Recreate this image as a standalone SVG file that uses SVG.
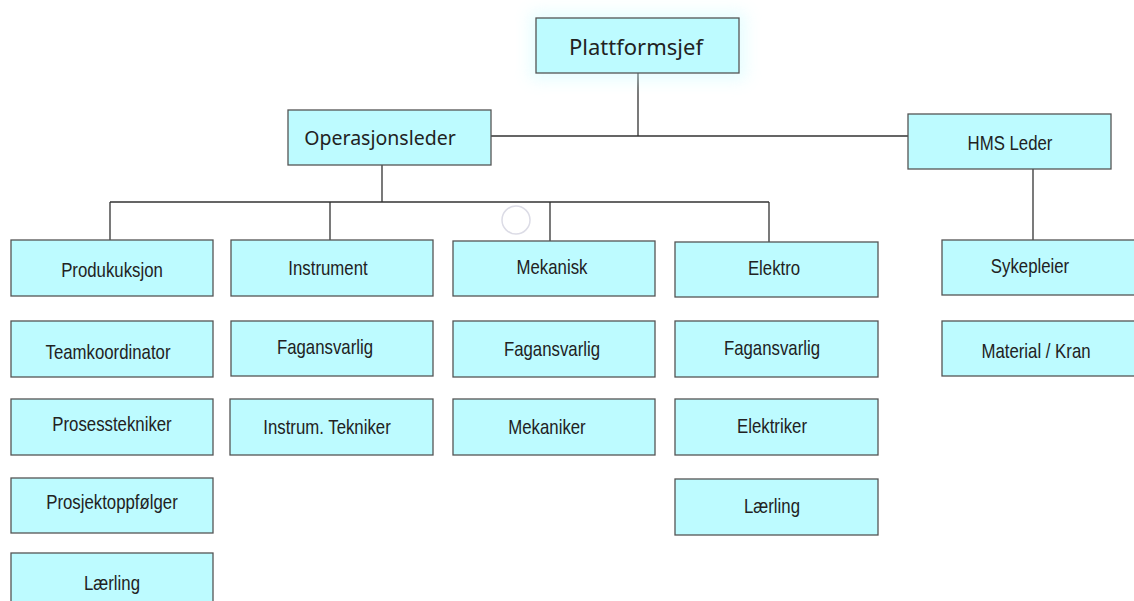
<svg xmlns="http://www.w3.org/2000/svg" width="1134" height="601" viewBox="0 0 1134 601">
  <defs>
    <filter id="glow" x="-20%" y="-40%" width="140%" height="180%">
      <feGaussianBlur stdDeviation="8"/>
    </filter>
  </defs>
  <style>
    .box { fill: #bdfbff; stroke: #555; stroke-width: 1.3; }
    .lbl { font-family: "Liberation Sans", Arial, sans-serif; font-size: 20px; fill: #222; text-anchor: middle; }
    .top { font-family: "Noto Sans", "Open Sans", sans-serif; fill: #222; text-anchor: middle; }
    .wire { fill: none; stroke: #333; stroke-width: 1.3; }
  </style>
  <rect width="1134" height="601" fill="#ffffff"/>

  <!-- connectors -->
  <g id="connectors" class="wire">
    <path d="M638 73 V136 M491 136 H908"/>
    <path d="M382 165 V202 M110 202 H769 M110 202 V240 M330 202 V240 M550 202 V241 M769 202 V242"/>
    <path d="M1033 169 V240"/>
  </g>
  <circle cx="516" cy="220" r="14" fill="none" stroke="#dcdce6" stroke-width="1.5"/>

  <!-- top level -->
  <g id="plattformsjef">
    <rect x="530" y="12" width="216" height="68" fill="#c8fbff" opacity="0.45" filter="url(#glow)"/>
    <rect class="box" x="536" y="18" width="203" height="55"/>
    <text class="top" x="636" y="55" font-size="22">Plattformsjef</text>
  </g>
  <g id="operasjonsleder">
    <rect class="box" x="288" y="110" width="203" height="55"/>
    <text class="top" x="380" y="145" font-size="19.5">Operasjonsleder</text>
  </g>
  <g id="hms-leder">
    <rect class="box" x="908" y="114" width="203" height="55"/>
    <text class="lbl" transform="translate(1010 150) scale(0.84 1)">HMS Leder</text>
  </g>

  <!-- Produksjon column -->
  <g id="produkuksjon">
    <rect class="box" x="11" y="240" width="202" height="56"/>
    <text class="lbl" transform="translate(112 277) scale(0.84 1)">Produkuksjon</text>
  </g>
  <g id="teamkoordinator">
    <rect class="box" x="11" y="321" width="202" height="56"/>
    <text class="lbl" transform="translate(108 359) scale(0.84 1)">Teamkoordinator</text>
  </g>
  <g id="prosesstekniker">
    <rect class="box" x="11" y="399" width="202" height="56"/>
    <text class="lbl" transform="translate(112 431) scale(0.84 1)">Prosesstekniker</text>
  </g>
  <g id="prosjektoppfolger">
    <rect class="box" x="11" y="478" width="202" height="55"/>
    <text class="lbl" transform="translate(112 509) scale(0.84 1)">Prosjektoppfølger</text>
  </g>
  <g id="laerling-produksjon">
    <rect class="box" x="11" y="553" width="202" height="56"/>
    <text class="lbl" transform="translate(112 590) scale(0.84 1)">Lærling</text>
  </g>

  <!-- Instrument column -->
  <g id="instrument">
    <rect class="box" x="231" y="240" width="202" height="56"/>
    <text class="lbl" transform="translate(328 275) scale(0.84 1)">Instrument</text>
  </g>
  <g id="fagansvarlig-instrument">
    <rect class="box" x="231" y="321" width="202" height="55"/>
    <text class="lbl" transform="translate(325 354) scale(0.84 1)">Fagansvarlig</text>
  </g>
  <g id="instrumenttekniker">
    <rect class="box" x="230" y="399" width="203" height="56"/>
    <text class="lbl" transform="translate(327 434) scale(0.84 1)">Instrum. Tekniker</text>
  </g>

  <!-- Mekanisk column -->
  <g id="mekanisk">
    <rect class="box" x="453" y="241" width="202" height="55"/>
    <text class="lbl" transform="translate(552 274) scale(0.84 1)">Mekanisk</text>
  </g>
  <g id="fagansvarlig-mekanisk">
    <rect class="box" x="453" y="321" width="202" height="56"/>
    <text class="lbl" transform="translate(552 356) scale(0.84 1)">Fagansvarlig</text>
  </g>
  <g id="mekaniker">
    <rect class="box" x="453" y="399" width="202" height="56"/>
    <text class="lbl" transform="translate(547 434) scale(0.84 1)">Mekaniker</text>
  </g>

  <!-- Elektro column -->
  <g id="elektro">
    <rect class="box" x="675" y="242" width="203" height="55"/>
    <text class="lbl" transform="translate(774 275) scale(0.84 1)">Elektro</text>
  </g>
  <g id="fagansvarlig-elektro">
    <rect class="box" x="675" y="321" width="203" height="56"/>
    <text class="lbl" transform="translate(772 355) scale(0.84 1)">Fagansvarlig</text>
  </g>
  <g id="elektriker">
    <rect class="box" x="675" y="399" width="203" height="56"/>
    <text class="lbl" transform="translate(772 433) scale(0.84 1)">Elektriker</text>
  </g>
  <g id="laerling-elektro">
    <rect class="box" x="675" y="479" width="203" height="56"/>
    <text class="lbl" transform="translate(772 513) scale(0.84 1)">Lærling</text>
  </g>

  <!-- HMS column -->
  <g id="sykepleier">
    <rect class="box" x="942" y="240" width="202" height="55"/>
    <text class="lbl" transform="translate(1030 273) scale(0.84 1)">Sykepleier</text>
  </g>
  <g id="material-kran">
    <rect class="box" x="942" y="321" width="202" height="55"/>
    <text class="lbl" transform="translate(1036 358) scale(0.84 1)">Material / Kran</text>
  </g>
</svg>
